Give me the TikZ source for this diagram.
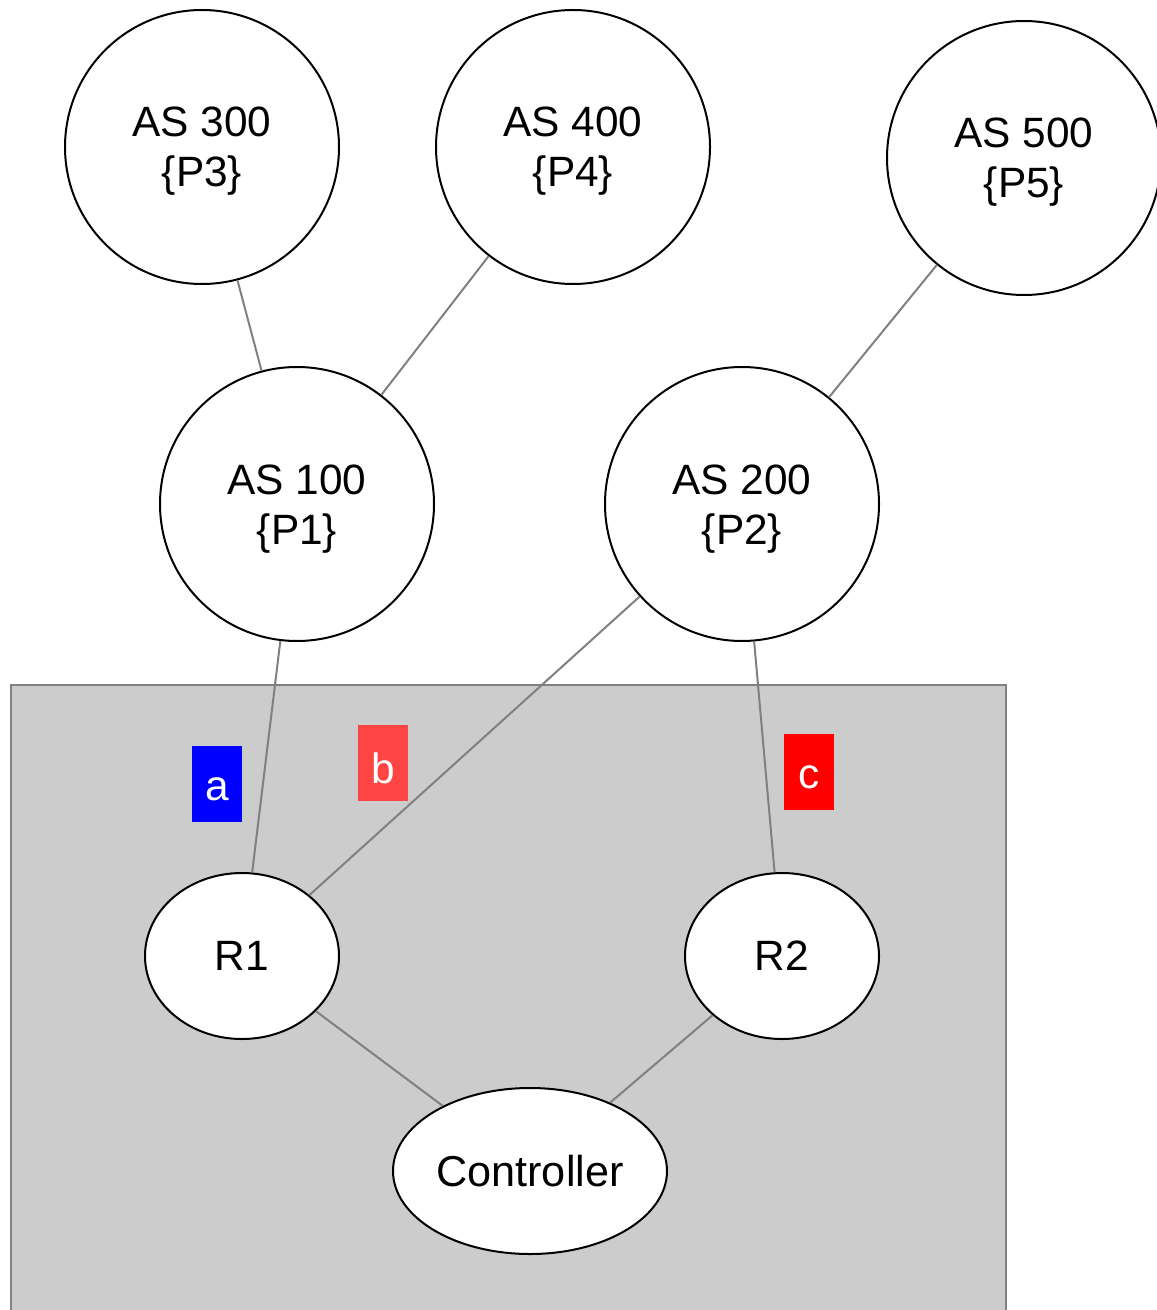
\documentclass[tikz,border=0pt]{standalone}
\usepackage{fontspec}
\setmainfont{Liberation Sans}
\usetikzlibrary{shapes.geometric}
\definecolor{boxgray}{HTML}{CCCCCC}
\definecolor{linegray}{HTML}{808080}
\definecolor{lblb}{HTML}{FF4444}
\newcommand\astext[2]{\raisebox{-2.5pt}[\height][\depth]{\begin{tabular}{@{}c@{}}#1\\\{#2\}\end{tabular}}}
\newcommand\lbltext[1]{\raisebox{-2.5pt}[\height][\depth]{#1}}
\begin{document}
\begin{tikzpicture}[x=0.5pt,y=-0.5pt,
  asnode/.style={circle,draw=black,line width=1pt,fill=white,minimum size=137pt,inner sep=0pt,font=\fontsize{21.2}{25}\selectfont},
  rnode/.style={ellipse,draw=black,line width=1pt,fill=white,minimum width=97pt,minimum height=83pt,inner sep=0pt,font=\fontsize{21.2}{25}\selectfont},
  link/.style={draw=linegray,line width=1pt},
  lbl/.style={rectangle,minimum width=25pt,minimum height=38pt,inner sep=0pt,text=white,font=\fontsize{21.2}{25}\selectfont}]
\useasboundingbox (0,0) rectangle (1156,1310);
\fill[boxgray] (11,685) rectangle (1006,1320);
\draw[linegray,line width=1pt] (11,1320) -- (11,685) -- (1006,685) -- (1006,1320);

\node[asnode] (as300) at (202,147) {\astext{AS 300}{P3}};
\node[asnode] (as400) at (573,147) {\astext{AS 400}{P4}};
\node[asnode] (as500) at (1024,158) {\astext{AS 500}{P5}};
\node[asnode] (as100) at (297,504) {\astext{AS 100}{P1}};
\node[asnode] (as200) at (742,504) {\astext{AS 200}{P2}};
\node[rnode] (r1) at (242,956) {R1};
\node[rnode] (r2) at (782,956) {R2};
\node[rnode,minimum width=137pt,font=\fontsize{21.6}{25}\selectfont] (ctrl) at (530,1171) {Controller};

\draw[link] (as300) -- (as100);
\draw[link] (as400) -- (as100);
\draw[link] (as500) -- (as200);
\draw[link] (as100) -- (r1);
\draw[link] (as200) -- (r1);
\draw[link] (as200) -- (r2);
\draw[link] (r1) -- (ctrl);
\draw[link] (r2) -- (ctrl);

\node[lbl,fill=blue] (la) at (217,784) {\lbltext{a}};
\node[lbl,fill=lblb] (lb) at (383,763) {\lbltext{b}};
\node[lbl,fill=red] (lc) at (809,772) {\lbltext{c}};
\end{tikzpicture}
\end{document}
